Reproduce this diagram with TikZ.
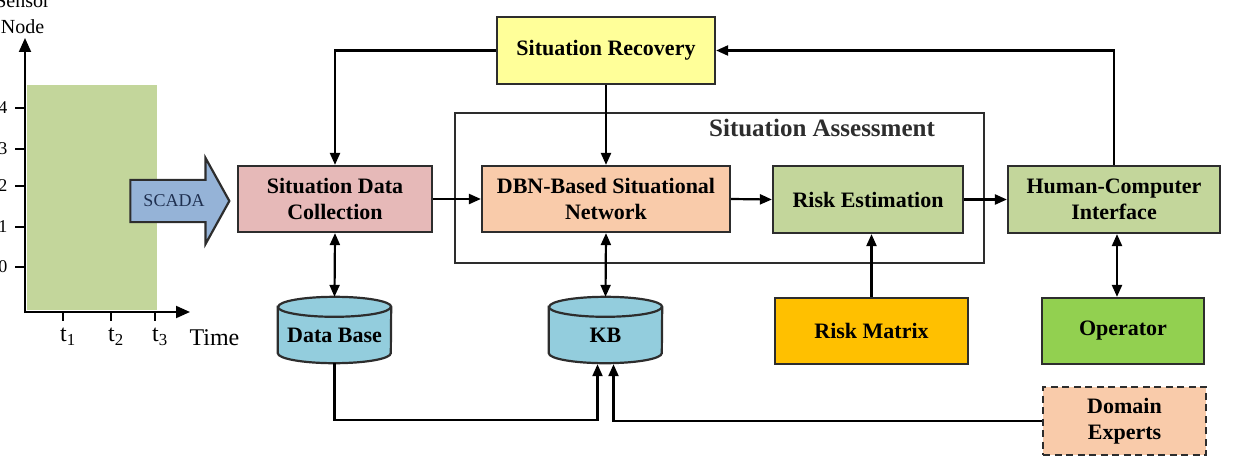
\documentclass[tikz,border=0pt]{standalone}
\usepackage{fontspec}
\setmainfont{Liberation Serif}
\usepackage{tikz}
\usetikzlibrary{arrows.meta,calc,positioning,shapes.arrows,backgrounds}
\definecolor{pembeKutu}{HTML}{E6B9B8}
\definecolor{seftaliKutu}{HTML}{F9CBAA}
\definecolor{sariKutu}{HTML}{FFFF99}
\definecolor{yesilKutu}{HTML}{C3D69B}
\definecolor{turuncuKutu}{HTML}{FFC000}
\definecolor{acikYesil}{HTML}{92D050}
\definecolor{mavTuplu}{HTML}{93CDDD}
\definecolor{okMavi}{HTML}{95B3D7}
\definecolor{koyuGri}{HTML}{2D2D2D}
\definecolor{lacivert}{HTML}{1F3050}
\begin{document}
\begin{tikzpicture}[x=1pt,y=-1pt,
  kutu/.style={draw=koyuGri,line width=2.2pt,align=center,inner sep=0pt,
    font=\fontsize{22}{26}\selectfont\bfseries},
  tuplu/.style={align=center,inner sep=0pt,minimum width=113pt,minimum height=66pt,
    font=\fontsize{22}{26}\selectfont\bfseries},
  baglanti/.style={line width=2.2pt,-{Triangle[length=12pt,width=10pt]}},
  ikiyon/.style={line width=2.2pt,{Triangle[length=12pt,width=10pt]}-{Triangle[length=12pt,width=10pt]}}]
\useasboundingbox (0,0) rectangle (1233,460);
% sensor chart
\fill[yesilKutu] (27,85) rectangle (157,310);
\draw[line width=2pt,-{Triangle[length=14pt,width=12pt]}] (25,313)--(25,38);
\draw[line width=2pt,-{Triangle[length=14pt,width=12pt]}] (24,312)--(190,312);
\foreach \yy/\lab in {108/4,149/3,186/2,227/1,267/0}{
  \draw[line width=2pt] (15,\yy)--(25,\yy);
  \node[anchor=east,font=\fontsize{18}{20}\selectfont] at (11,\yy) {\lab};
}
\foreach \xx/\lab in {63/1,111/2,155/3}{
  \draw[line width=2pt] (\xx,312)--(\xx,321);
  \node[font=\fontsize{24}{26}\selectfont] at (\xx+5,337) {t\textsubscript{\lab}};
}
\node[anchor=base west,font=\fontsize{24}{26}\selectfont] at (186,345) {Time};
\node[anchor=base,align=center,font=\fontsize{20}{26}\selectfont] at (22.5,34) {Sensor\\Node};
\node[single arrow,draw=koyuGri,line width=2.2pt,fill=okMavi,text=lacivert,
  minimum height=99pt,single arrow head extend=22pt,single arrow tip angle=122,
  inner ysep=14pt,inner xsep=4pt,font=\fontsize{18}{20}\selectfont] (scada) at (174,201) {SCADA};
% boxes
\node[draw=koyuGri,line width=2.2pt,minimum width=529pt,minimum height=150pt] (degerlendirme) at (719.5,188) {};
\node[font=\fontsize{25}{28}\selectfont\bfseries,text=koyuGri] (saBaslik) at (822,128) {Situation Assessment};
\node[kutu,fill=sariKutu,minimum width=218pt,minimum height=67pt] (kurtarma) at (606,50.5) {Situation Recovery};
\node[kutu,fill=pembeKutu,minimum width=194pt,minimum height=66pt] (veriTopla) at (335,199) {Situation Data\\Collection};
\node[kutu,fill=seftaliKutu,minimum width=248pt,minimum height=66pt] (dbnAg) at (606,199) {DBN-Based Situational\\Network};
\node[kutu,fill=yesilKutu,minimum width=190pt,minimum height=67pt] (riskTahmin) at (868,199.5) {Risk Estimation};
\node[kutu,fill=yesilKutu,minimum width=212pt,minimum height=67pt] (arayuz) at (1114,199.5) {Human-Computer\\Interface};
\node[kutu,fill=turuncuKutu,minimum width=193pt,minimum height=66pt] (riskMatris) at (871.5,331) {Risk Matrix};
\node[kutu,fill=acikYesil,minimum width=162pt,minimum height=66pt] (operator) at (1123,331) {Operator};
\node[kutu,dash pattern=on 7pt off 4.5pt,fill=seftaliKutu,minimum width=163pt,minimum height=68pt] (uzman) at (1124.5,421) {Domain\\Experts};
\node[tuplu] (veriTabani) at (334.5,330) {\raisebox{-12pt}[0pt][0pt]{Data Base}};
\node[tuplu] (bilgiTabani) at (605.5,330) {\raisebox{-12pt}[0pt][0pt]{KB}};
% cylinders behind the two data stores
\begin{scope}[on background layer]
\foreach \db in {veriTabani,bilgiTabani}{
  \filldraw[fill=mavTuplu,draw=koyuGri,line width=2.2pt]
    ($(\db.north west)+(0,10)$) -- ($(\db.south west)+(0,-10)$)
    arc[start angle=180,end angle=360,x radius=56.5pt,y radius=10pt]
    -- ($(\db.north east)+(0,10)$)
    arc[start angle=0,end angle=180,x radius=56.5pt,y radius=10pt] -- cycle;
  \draw[koyuGri,line width=2.2pt] ($(\db.north west)+(0,10)$)
    arc[start angle=180,end angle=360,x radius=56.5pt,y radius=10pt];
}
\end{scope}
% connectors
\draw[baglanti] (kurtarma.west) -| (veriTopla.north);
\draw[baglanti] (kurtarma.south) -- (dbnAg.north);
\draw[baglanti] (arayuz.north) |- (kurtarma.east);
\draw[baglanti] (veriTopla.east) -- (dbnAg.west);
\draw[baglanti] (dbnAg.east) -- (riskTahmin.west);
\draw[baglanti] (riskTahmin.east) -- (arayuz.west);
\draw[ikiyon] (veriTopla.south) -- (veriTabani.north);
\draw[ikiyon] (dbnAg.south) -- (bilgiTabani.north);
\draw[baglanti] (riskMatris.north) -- (riskMatris.north |- riskTahmin.south);
\draw[ikiyon] ($(arayuz.south)+(3,0)$) -- ($(arayuz.south |- operator.north)+(3,0)$);
\coordinate (kbSol) at ($(bilgiTabani.south)+(-8,1)$);
\coordinate (kbSag) at ($(bilgiTabani.south)+(8,1)$);
\draw[baglanti] (veriTabani.south) |- ($(kbSol)+(0,56)$) -- (kbSol);
\draw[baglanti] (uzman.west) -| (kbSag);
\end{tikzpicture}
\end{document}
